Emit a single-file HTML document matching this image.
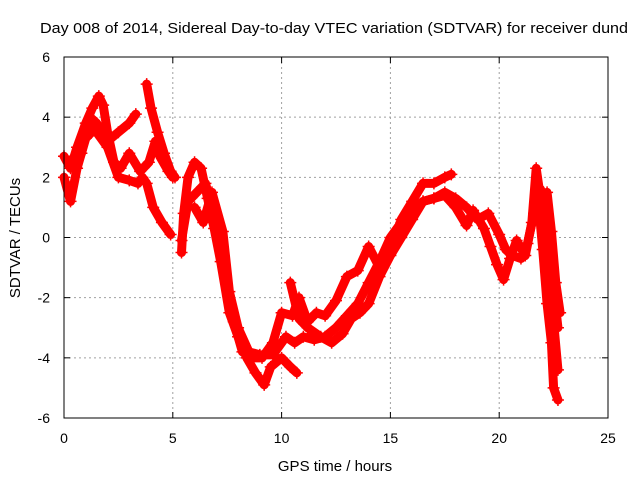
<!DOCTYPE html>
<html><head><meta charset="utf-8"><style>
body{margin:0;background:#fff;}
svg{display:block;font-family:"Liberation Sans",sans-serif;}
</style></head><body>
<svg id="chart" width="640" height="480">
<text x="334" y="33" text-anchor="middle" font-size="15" textLength="588" lengthAdjust="spacingAndGlyphs">Day 008 of 2014, Sidereal Day-to-day VTEC variation (SDTVAR) for receiver dund</text>
<text x="335" y="471" text-anchor="middle" font-size="15">GPS time / hours</text>
<text transform="translate(20,238) rotate(-90)" text-anchor="middle" font-size="15">SDTVAR / TECUs</text>
<g id="grid"></g><g id="ticks"></g><g id="marks"></g>
<rect x="64" y="57" width="544" height="361" fill="none" stroke="#000" stroke-width="1"/>
</svg>
<script>
const xTicks=[0,5,10,15,20,25];
const yTicks=[-6,-4,-2,0,2,4,6];
const track1=[[0,2.7],[0.3,2.3],[0.6,3],[1,3.8],[1.3,4.3],[1.6,4.7],[1.8,4.4],[2,3.5],[2.3,2.5],[2.6,2.3],[3,2.8],[3.5,2.2],[3.9,2.5],[4.2,3.2],[4.4,2.7],[4.8,2.2],[5,2]];
const track2=[[0,2],[0.3,1.2],[0.6,2.3],[1,3.3],[1.4,3.6],[2,3],[2.5,2],[3,1.9],[3.4,1.8],[3.6,2],[3.8,1.8],[4.1,1],[4.5,0.5],[4.9,0.1]];
const track3=[[0.8,2.8],[1.2,4],[1.5,3.8],[2,3.2],[2.5,3.5],[3,3.8],[3.3,4.1]];
const track4=[[3.8,5.1],[4,4.3],[4.3,3.5],[4.6,2.8],[4.9,2.2],[5.1,2]];
const track5=[[5.4,-0.5],[5.5,0.8],[5.7,2],[6,2.5],[6.3,2.3],[6.6,1.3],[6.9,0.3],[7.2,-0.8],[7.6,-2.5],[8,-3.3],[8.4,-4],[8.8,-4.5],[9.2,-4.9],[9.5,-4.3],[10,-4],[10.4,-4.3],[10.7,-4.5]];
const track6=[[5.4,-0.1],[5.7,1.2],[6.1,1.5],[6.5,1.8],[7,0.5],[7.4,-1.2],[7.8,-2.8],[8.2,-3.8],[8.6,-4],[9.1,-4],[9.6,-3.5],[10,-2.5],[10.5,-2.6],[10.8,-2],[11.2,-2.8],[11.6,-2.5],[12,-2.6],[12.5,-2.1],[13,-1.3],[13.5,-1.1],[14,-0.3],[14.5,-1.0],[15,-0.5],[15.5,0.6],[16,1.2],[16.5,1.8],[17,1.8],[17.5,2],[17.8,2.1]];
const track7=[[6,1],[6.4,0.5],[6.8,1.5],[7.3,0.2],[7.6,-1.8],[8,-3],[8.5,-3.8],[9,-3.9],[9.6,-3.9],[10.2,-3.3],[10.6,-3.5],[11,-3.3],[11.5,-3.4],[12,-3.3],[12.5,-3],[13,-2.6],[13.5,-2.2],[14,-1.5],[14.5,-0.8],[15,0],[15.5,0.5],[16,0.9],[16.5,1.2],[17,1.3],[17.5,1.5],[18,1.3],[18.5,1.0],[19,0.6],[19.5,0.8],[20,0.1],[20.3,-0.4],[20.6,-0.6],[21,-0.7],[21.3,-0.2],[21.6,0.8],[21.9,1.6],[22.1,1],[22.3,-0.5],[22.5,-1.7],[22.7,-3]];
const track8=[[10.4,-1.5],[10.8,-2.7],[11.2,-3],[11.8,-3.3],[12.3,-3.5],[12.8,-3.2],[13.2,-2.7],[13.6,-2.5],[14,-2.2],[14.5,-1.3],[15,-0.6],[15.5,0],[16,0.6],[16.5,1.2],[17,1.3],[17.5,1.4],[18,1],[18.5,0.4],[18.8,0.9],[19.3,0.3],[19.6,-0.3],[19.9,-0.9],[20.2,-1.4],[20.5,-0.7],[20.8,-0.1],[21.2,-0.6],[21.5,0.5],[21.7,2.3],[21.9,1.3],[22.1,0],[22.3,-1.5],[22.5,-2.8],[22.7,-4.4]];
const track9=[[21.8,1.2],[22,-0.4],[22.2,-2.2],[22.4,-3.5],[22.5,-5],[22.7,-5.4]];
const track10=[[22.2,1.5],[22.4,0.2],[22.6,-1.5],[22.8,-2.5]];
const tracks=[track1,track2,track3,track4,track5,track6,track7,track8,track9,track10];

const NS='http://www.w3.org/2000/svg';
const X0=64,X1=608,Y0=418,Y1=57;
function sx(v){return X0+(v-0)/(25-0)*(X1-X0);}
function sy(v){return Y0-(v+6)/12*(Y0-Y1);}
function mk(tag,attrs,parent){const e=document.createElementNS(NS,tag);for(const k in attrs)e.setAttribute(k,attrs[k]);parent.appendChild(e);return e;}
const grid=document.getElementById('grid'),ticks=document.getElementById('ticks'),marks=document.getElementById('marks');
xTicks.forEach(t=>{
  const x=sx(t);
  if(t>0&&t<25){const g=mk('line',{x1:x,x2:x,y1:Y1,y2:Y0,stroke:'#a0a0a0','stroke-dasharray':'2,3'},grid);
  
  }
  mk('line',{x1:x,x2:x,y1:Y0,y2:Y0-6,stroke:'#000'},ticks);
  mk('line',{x1:x,x2:x,y1:Y1,y2:Y1+6,stroke:'#000'},ticks);
  const l=mk('text',{x:x,y:443,'text-anchor':'middle','font-size':14},ticks);l.textContent=t;
  
  
});
yTicks.forEach(t=>{
  const y=sy(t);
  if(t>-6&&t<6){const g=mk('line',{x1:X0,x2:X1,y1:y,y2:y,stroke:'#a0a0a0','stroke-dasharray':'2,3'},grid);
  
  }
  mk('line',{x1:X0,x2:X0+6,y1:y,y2:y,stroke:'#000'},ticks);
  mk('line',{x1:X1,x2:X1-6,y1:y,y2:y,stroke:'#000'},ticks);
  const l=mk('text',{x:50,y:y+5,'text-anchor':'end','font-size':14},ticks);l.textContent=t;
  
  
});
tracks.forEach((tr,i)=>{
  const pts=tr.map(p=>sx(p[0])+','+sy(p[1])).join(' ');
  const pl=mk('polyline',{points:pts,fill:'none',stroke:'#ff0000','stroke-width':9,'stroke-linejoin':'round','stroke-linecap':'round'},marks);
  
  
  tr.forEach(p=>{
    const x=sx(p[0]),y=sy(p[1]);
    const m=mk('path',{d:`M${x-6},${y}H${x+6}M${x},${y-6}V${y+6}`,stroke:'#ff0000','stroke-width':1.5},marks);
    
    
  });
});
</script>
</body></html>
